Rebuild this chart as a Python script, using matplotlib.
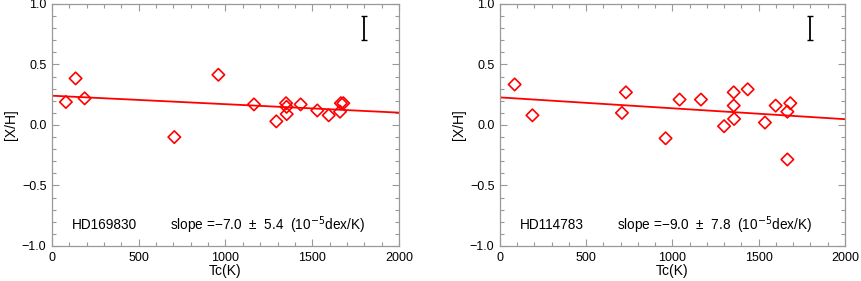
import matplotlib
matplotlib.use("Agg")
import matplotlib.pyplot as plt
import numpy as np
from matplotlib.ticker import MultipleLocator

plt.rcParams["font.family"] = ["Liberation Sans", "DejaVu Sans"]

# HD169830
tc_a = [80, 136, 188, 705, 959, 1164, 1293, 1349, 1352, 1353, 1433, 1529, 1595, 1660, 1665, 1679]
xh_a = [0.19, 0.385, 0.22, -0.10, 0.415, 0.17, 0.03, 0.18, 0.15, 0.09, 0.17, 0.12, 0.08, 0.11, 0.18, 0.18]
fit_a = [0.242, -7.0e-5]

# HD114783
tc_b = [85, 188, 707, 730, 960, 1041, 1165, 1299, 1355, 1355, 1357, 1436, 1536, 1598, 1666, 1666, 1683]
xh_b = [0.335, 0.08, 0.10, 0.27, -0.11, 0.21, 0.21, -0.01, 0.27, 0.16, 0.05, 0.295, 0.02, 0.16, 0.11, -0.285, 0.18]
fit_b = [0.228, -9.0e-5]

stars = ["HD169830", "HD114783"]
slope_txt = ["slope =\u22127.0  \u00b1  5.4  (10$^{-5}$dex/K)",
             "slope =\u22129.0  \u00b1  7.8  (10$^{-5}$dex/K)"]

err_x, err_y, err_size = 1800, 0.8, 0.1

fig = plt.figure(figsize=(8.61, 2.81), dpi=100)
axes = [fig.add_axes([0.0604, 0.1246, 0.403, 0.8612]),
        fig.add_axes([0.5807, 0.1246, 0.4007, 0.8612])]

data = [(tc_a, xh_a, fit_a), (tc_b, xh_b, fit_b)]
for i, ax in enumerate(axes):
    tc, xh, fit = data[i]
    ax.scatter(tc, xh, marker="D", s=40, facecolors="none", edgecolors="red",
               linewidths=1.2, zorder=3)
    xx = np.array([0, 2000])
    ax.plot(xx, fit[0] + fit[1] * xx, color="red", lw=1.3, zorder=2)
    ax.errorbar([err_x], [err_y], yerr=[err_size], color="black", lw=1.3,
                capsize=2.5, capthick=1.0)
    ax.text(115, -0.83, stars[i], fontsize=9.8, va="center")
    ax.text(680, -0.83, slope_txt[i], fontsize=9.8, va="center")

    ax.set_xlim(0, 2000)
    ax.set_ylim(-1.0, 1.0)
    ax.xaxis.set_major_locator(MultipleLocator(500))
    ax.xaxis.set_minor_locator(MultipleLocator(100))
    ax.yaxis.set_major_locator(MultipleLocator(0.5))
    ax.yaxis.set_minor_locator(MultipleLocator(0.1))
    ax.tick_params(which="both", direction="in", top=True, right=True,
                   color="#999999", labelsize=9, pad=4)
    ax.tick_params(which="major", length=5, width=0.8)
    ax.tick_params(which="minor", length=3, width=0.8)
    for sp in ax.spines.values():
        sp.set_color("#999999")
        sp.set_linewidth(0.9)
    ax.set_xlabel("Tc(K)", fontsize=10, labelpad=0)
    ax.set_ylabel("[X/H]", fontsize=10, labelpad=3)
    ax.yaxis.set_major_formatter(plt.FuncFormatter(lambda v, p: f"{v:.1f}".replace("-", "\u2212")))

fig.savefig("out.png", dpi=100)
